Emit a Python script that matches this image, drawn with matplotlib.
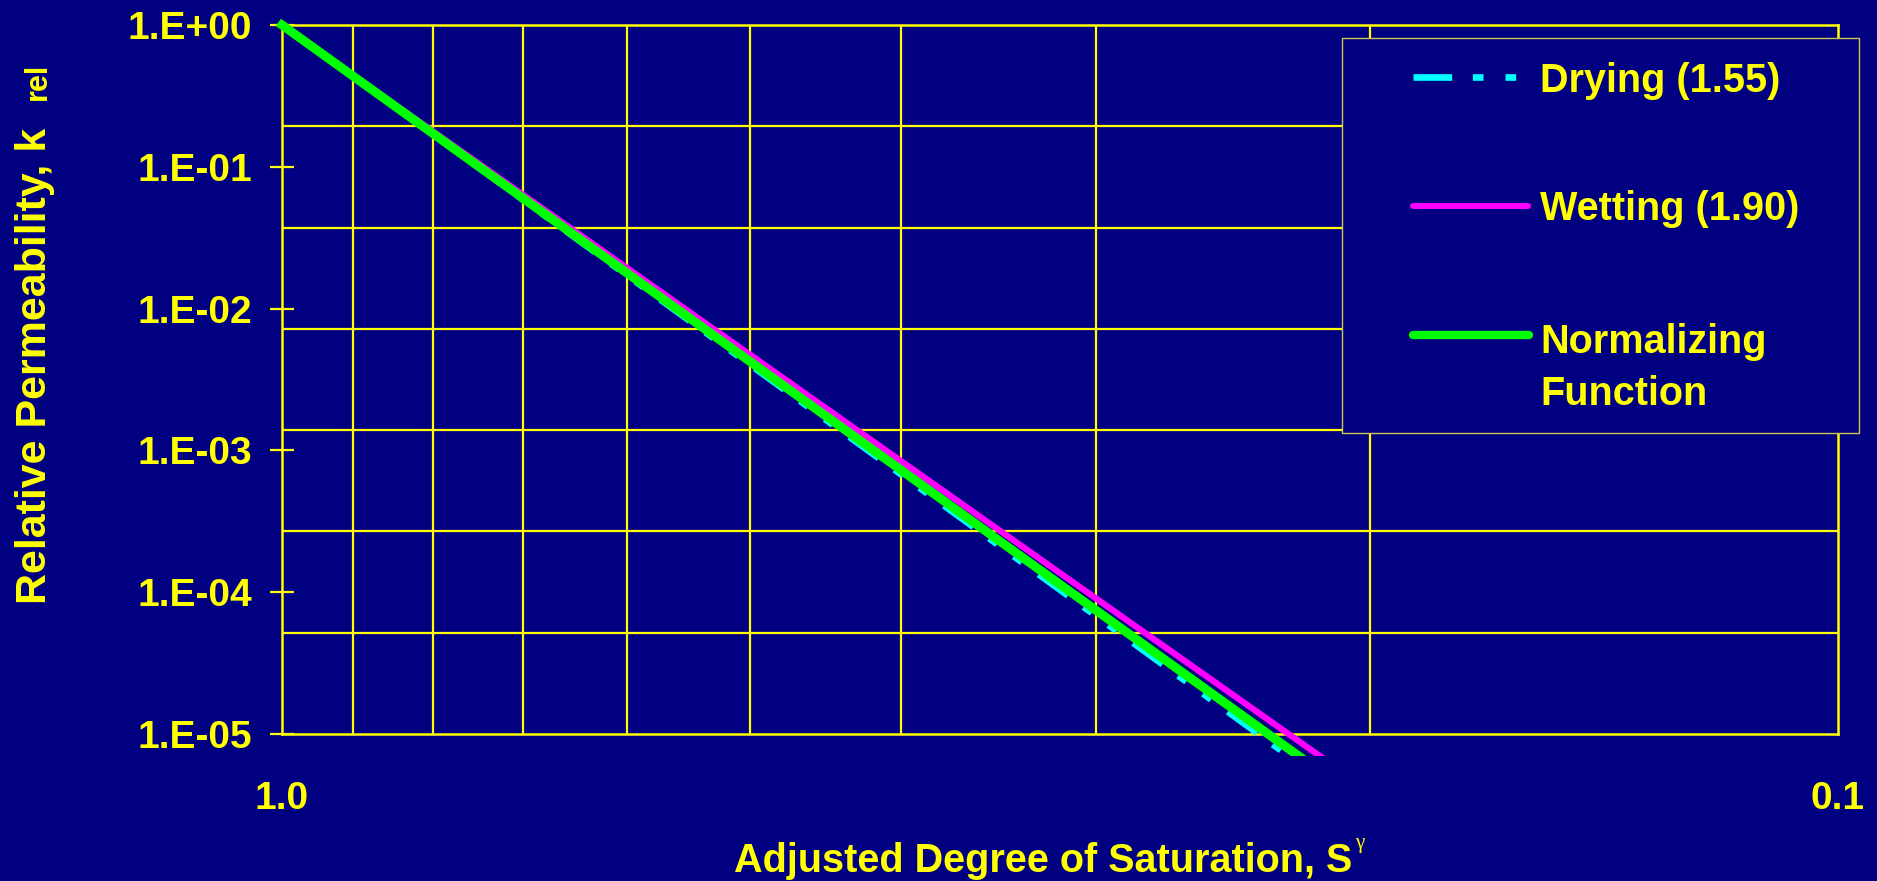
import numpy as np
import matplotlib
matplotlib.use("Agg")
import matplotlib.pyplot as plt
from matplotlib.lines import Line2D
from matplotlib.patches import Rectangle
from matplotlib.ticker import NullFormatter

# ---- data ----
S_vals = [1.0, 0.9, 0.8, 0.7, 0.6, 0.5, 0.4, 0.3, 0.25, 0.21]
k_drying = [1.0, 0.4317, 0.1689, 0.0583, 0.01706, 0.003989, 6.74e-4, 6.80e-5, 1.591e-5, 3.96e-6]
k_wetting = [1.0, 0.4429, 0.1782, 0.0635, 0.01929, 0.004710, 8.39e-4, 9.08e-5, 2.22e-5, 5.77e-6]
k_normal = [1.0, 0.4355, 0.1719, 0.05997, 0.01777, 0.004214, 7.25e-4, 7.49e-5, 1.777e-5, 4.49e-6]

y_major = [1.0, 1e-1, 1e-2, 1e-3, 1e-4, 1e-5]
y_labels = ["1.E+00", "1.E-01", "1.E-02", "1.E-03", "1.E-04", "1.E-05"]
x_major = [1.0, 0.1]
x_labels = ["1.0", "0.1"]
x_grid = [0.9, 0.8, 0.7, 0.6, 0.5, 0.4, 0.3, 0.2]

legend_labels = [["Drying (1.55)"], ["Wetting (1.90)"], ["Normalizing", "Function"]]

# ---- style ----
W, H = 1877, 881
BG = "#000080"
YEL = "#FFFF00"
CYAN = "#00FFFF"
MAG = "#FF00FF"
GRN = "#00FF00"
plt.rcParams["font.family"] = ["Liberation Sans", "DejaVu Sans"]
plt.rcParams["font.weight"] = "bold"

def fx(px):
    return px / W

def fy(py):
    return 1 - py / H

fig = plt.figure(figsize=(W / 100, H / 100), dpi=100, facecolor=BG)
ax_l, ax_r, ax_t, ax_b = 282, 1838, 25, 734
ax = fig.add_axes([fx(ax_l), fy(ax_b), (ax_r - ax_l) / W, (ax_b - ax_t) / H])
ax.set_facecolor(BG)
ax.set_xscale("log")
ax.set_yscale("log")
ax.set_xlim(1.0, 0.1)
ax.set_ylim(1e-5, 1.0)

# grid: vertical at 0.9..0.2, horizontal at 7 equal steps over 5 decades
y_grid = [10 ** (-5.0 * i / 7) for i in range(1, 7)]
ax.set_xticks(x_major, labels=x_labels)
ax.set_xticks(x_grid, minor=True)
ax.xaxis.set_minor_formatter(NullFormatter())
ax.set_yticks(y_major, labels=y_labels)
ax.set_yticks(y_grid, minor=True)
ax.yaxis.set_minor_formatter(NullFormatter())

ax.grid(True, which="minor", axis="both", color=YEL, lw=1.6)
ax.grid(False, which="major")

ax.tick_params(axis="x", which="both", length=0, pad=34, labelsize=28,
               labelcolor=YEL)
ax.tick_params(axis="y", which="major", direction="inout", length=17, width=1.6,
               color=YEL, pad=13, labelsize=28, labelcolor=YEL)
ax.tick_params(axis="y", which="minor", length=0)
for lab in ax.get_xticklabels() + ax.get_yticklabels():
    lab.set_fontweight("bold")
for sp in ax.spines.values():
    sp.set_color(YEL)
    sp.set_linewidth(1.8)

clip = Rectangle((-0.01, -0.031), 1.02, 1.06, transform=ax.transAxes)
dash = (0, (5.8, 3.1, 1.6, 3.3, 1.6, 3.3))
l1, = ax.plot(S_vals, k_drying, color=CYAN, lw=4.5, ls=dash, zorder=3)
l2, = ax.plot(S_vals, k_wetting, color=MAG, lw=4.5, zorder=4)
l3, = ax.plot(S_vals, k_normal, color=GRN, lw=6.5, zorder=5)
for ln in (l1, l2, l3):
    ln.set_clip_path(clip)

# ---- axis titles ----
fig.text(fx(1352), fy(872), "Adjusted Degree of Saturation, S",
         color=YEL, fontsize=28.5, fontweight="bold", ha="right", va="baseline")
fig.text(fx(1355), fy(848), "\u03b3", color=YEL, fontsize=15,
         family=["Liberation Serif", "DejaVu Serif"], fontweight="normal",
         ha="left", va="baseline")
fig.text(fx(46), fy(604), "Relative Permeability, k", color=YEL, fontsize=31,
         fontweight="bold", rotation=90, rotation_mode="anchor",
         ha="left", va="baseline")
fig.text(fx(46), fy(100), "rel", color=YEL, fontsize=22, fontweight="bold",
         rotation=90, rotation_mode="anchor", ha="left", va="baseline")

# ---- legend (drawn in figure pixels) ----
lb_l, lb_r, lb_t, lb_b = 1342, 1859, 38, 433
fig.add_artist(Rectangle((fx(lb_l), fy(lb_b)), (lb_r - lb_l) / W, (lb_b - lb_t) / H,
                         transform=fig.transFigure, facecolor=BG,
                         edgecolor="#C8C850", lw=1.0, zorder=10))
handles = [
    dict(x0=1413, x1=1517, y=77, color=CYAN, lw=4.8, ls=dash, cap="butt"),
    dict(x0=1413, x1=1528, y=206, color=MAG, lw=4.3, ls="-", cap="round"),
    dict(x0=1413, x1=1529, y=335, color=GRN, lw=6.0, ls="-", cap="round"),
]
baselines = [[92], [220], [353, 405]]
for h, labs, bls in zip(handles, legend_labels, baselines):
    fig.add_artist(Line2D([fx(h["x0"]), fx(h["x1"])], [fy(h["y"]), fy(h["y"])],
                          transform=fig.transFigure, color=h["color"], lw=h["lw"],
                          ls=h["ls"], solid_capstyle=h["cap"], zorder=11))
    for lab, bl in zip(labs, bls):
        fig.text(fx(1540), fy(bl), lab, color=YEL, fontsize=28.5, fontweight="bold",
                 ha="left", va="baseline", zorder=12)

fig.savefig("out.png", dpi=100, facecolor=BG)
